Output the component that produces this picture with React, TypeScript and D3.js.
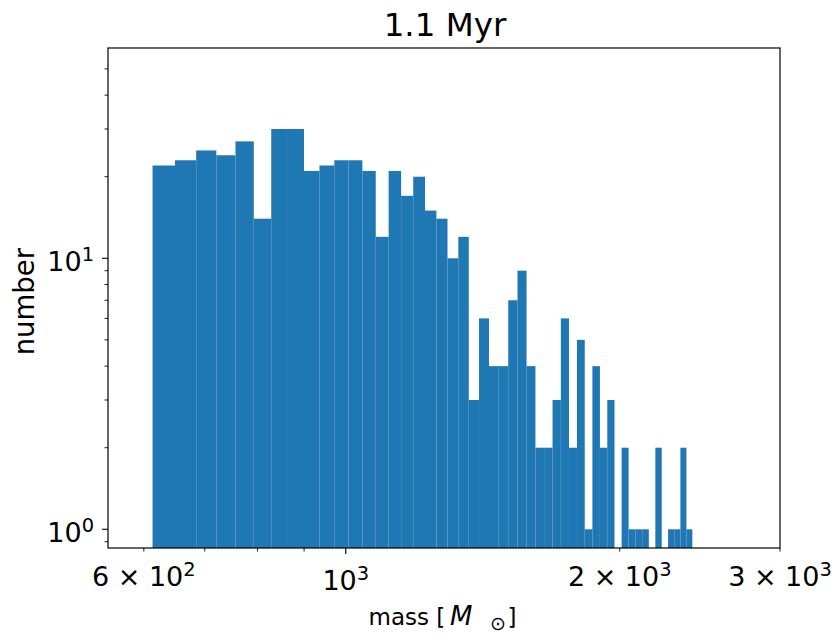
import React from "react";
import * as d3 from "d3";

// Histogram of cluster masses at 1.1 Myr (50 equal-width bins in mass)
const massMin = 613.4;
const massMax = 2403.4;
const binCounts = [
  22, 23, 25, 24, 27, 14, 30, 30, 21, 22, 23, 23, 21, 12, 21, 17, 20, 15, 14, 10,
  12, 3, 6, 4, 4, 7, 9, 4, 2, 2, 3, 6, 2, 5, 1, 4, 2, 3, 0, 2,
  1, 1, 1, 0, 2, 0, 1, 1, 2, 1,
];

// Axis ticks
const xMajorTicks = [1000];
const xMinorTicks = [600, 700, 800, 900, 2000, 3000];
const xTickLabels = [
  { value: 600, mant: "6", exp: "2" },
  { value: 1000, mant: "", exp: "3" },
  { value: 2000, mant: "2", exp: "3" },
  { value: 3000, mant: "3", exp: "3" },
];
const yMajorTicks = [1, 10];
const yMinorTicks = [0.9, 2, 3, 4, 5, 6, 7, 8, 9, 20, 30, 40, 50];
const yTickLabels = [
  { value: 1, exp: "0" },
  { value: 10, exp: "1" },
];

const titleText = "1.1 Myr";
const yLabelText = "number";

export default function App() {
  const width = 837,
    height = 641;
  const left = 108,
    right = 780,
    top = 48,
    bottom = 548;

  const barColor = "#1f77b4";
  const font = "DejaVu Sans";
  const tickFs = 27;
  const labelFs = 23;

  const x = d3.scaleLog().domain([548, 3000]).range([left, right]);
  const y = d3.scaleLog().domain([0.853, 59.7]).range([bottom, top]);

  // bin edges like np.histogram(bins=50)
  const nBins = binCounts.length;
  const step = (massMax - massMin) / nBins;
  const edges = d3.range(nBins + 1).map((i) => massMin + i * step);

  const bars = binCounts
    .map((c, i) => ({ c, x0: edges[i], x1: edges[i + 1] }))
    .filter((d) => d.c > 0);

  return (
    <svg
      width={width}
      height={height}
      style={{ position: "absolute", left: 0, top: 0, background: "#fff" }}
      fontFamily={font}
    >
      <rect x={0} y={0} width={width} height={height} fill="#fff" />

      {/* bars */}
      <g>
        {bars.map((d, i) => (
          <rect
            key={i}
            x={x(d.x0)}
            width={x(d.x1) - x(d.x0)}
            y={y(d.c)}
            height={bottom - y(d.c)}
            fill={barColor}
          />
        ))}
      </g>

      {/* frame */}
      <rect
        x={left}
        y={top}
        width={right - left}
        height={bottom - top}
        fill="none"
        stroke="#000"
        strokeWidth={1.2}
      />

      {/* x ticks */}
      {xMajorTicks.map((t) => (
        <line key={"xM" + t} x1={x(t)} x2={x(t)} y1={bottom} y2={bottom + 6} stroke="#000" strokeWidth={1.1} />
      ))}
      {xMinorTicks.map((t) => (
        <line key={"xm" + t} x1={x(t)} x2={x(t)} y1={bottom} y2={bottom + 3.5} stroke="#000" strokeWidth={0.9} />
      ))}
      {xTickLabels.map((t) => (
        <text
          key={"xl" + t.value}
          x={x(t.value)}
          y={t.mant ? 586 : 589.5}
          textAnchor="middle"
          fontSize={tickFs}
          fill="#000"
        >
          {t.mant ? t.mant + " \u00d7 10" : "10"}
          <tspan fontSize={tickFs * 0.72} dy={-10}>
            {t.exp}
          </tspan>
        </text>
      ))}

      {/* y ticks */}
      {yMajorTicks.map((t) => (
        <line key={"yM" + t} x1={left - 6} x2={left} y1={y(t)} y2={y(t)} stroke="#000" strokeWidth={1.1} />
      ))}
      {yMinorTicks.map((t) => (
        <line key={"ym" + t} x1={left - 3.5} x2={left} y1={y(t)} y2={y(t)} stroke="#000" strokeWidth={0.9} />
      ))}
      {yTickLabels.map((t) => (
        <text key={"yl" + t.value} x={94} y={y(t.value) + 12.7} textAnchor="end" fontSize={tickFs} fill="#000">
          10
          <tspan fontSize={tickFs * 0.72} dy={-10}>
            {t.exp}
          </tspan>
        </text>
      ))}

      {/* labels */}
      <text x={445} y={36} textAnchor="middle" fontSize={32.5} fill="#000">
        {titleText}
      </text>
      <text
        transform={`translate(33.5, 301.7) rotate(-90)`}
        textAnchor="middle"
        fontSize={27.5}
        fill="#000"
      >
        {yLabelText}
      </text>
      <text y={624.5} fontSize={labelFs} fill="#000">
        <tspan x={368.5}>{"mass ["}</tspan>
        <tspan x={450} fontStyle="italic" fontSize={26}>
          M
        </tspan>
        <tspan x={490} dy={5} fontSize={19}>
          {"\u2299"}
        </tspan>
        <tspan x={507.5} dy={-5}>
          {"]"}
        </tspan>
      </text>
    </svg>
  );
}
